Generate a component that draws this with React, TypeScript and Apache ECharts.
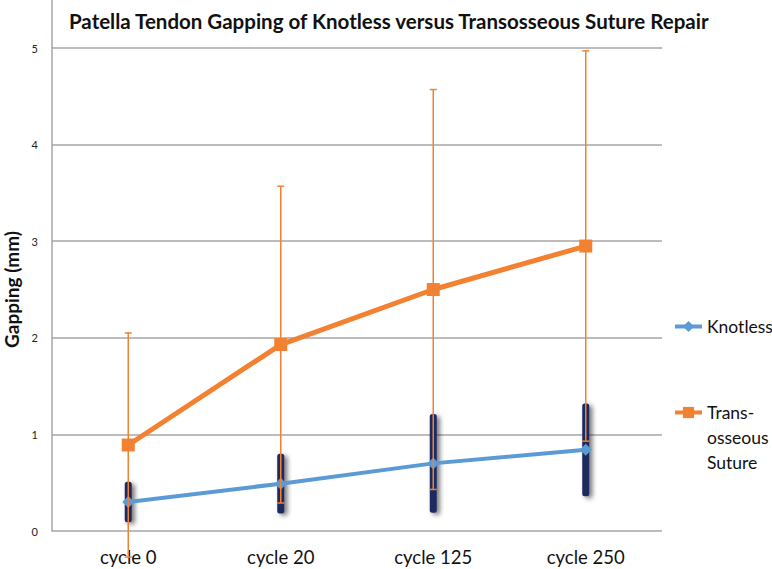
import React, { useEffect, useRef } from "react";
import * as echarts from "echarts";

const categories = ["cycle 0", "cycle 20", "cycle 125", "cycle 250"];
const knotlessMean = [0.3, 0.49, 0.7, 0.84];
const knotlessSD = [0.21, 0.31, 0.51, 0.48];
const transMean = [0.89, 1.93, 2.5, 2.95];
const transSD = [1.16, 1.64, 2.07, 2.02];
const yTicks = { min: 0, max: 5, interval: 1 };

const FONT = "Lato, 'Open Sans', sans-serif";

export default function App() {
  const ref = useRef<HTMLDivElement>(null);
  useEffect(() => {
    const chart = echarts.init(ref.current!, undefined, { renderer: "svg" });
    const knotErr = knotlessMean.map((m, i) => [i, m - knotlessSD[i], m + knotlessSD[i]]);
    const transErr = transMean.map((m, i) => [i, m - transSD[i], m + transSD[i]]);

    chart.setOption({
      animation: false,
      title: {
        text: "Patella Tendon Gapping of Knotless versus Transosseous Suture Repair",
        left: 64,
        top: 5,
        textStyle: { fontFamily: FONT, fontWeight: "bold", fontSize: 20.5, color: "#111" },
      },
      grid: { left: 52, right: 110, top: 48, bottom: 38, outerBoundsMode: "none", containLabel: false },
      legend: [
        {
          data: ["Knotless"],
          orient: "vertical",
          left: 668,
          top: 309,
          itemWidth: 27,
          itemHeight: 14,
          lineStyle: { width: 4 },
          textStyle: { fontFamily: FONT, fontSize: 17.5, color: "#111", lineHeight: 25 },
        },
        {
          data: ["Transosseous Suture"],
          orient: "vertical",
          left: 668,
          top: 345,
          itemWidth: 27,
          itemHeight: 14,
          lineStyle: { width: 4 },
          formatter: () => " \n \nTrans-\nosseous\nSuture",
          textStyle: { fontFamily: FONT, fontSize: 17.5, color: "#111", lineHeight: 25 },
        },
      ],
      xAxis: {
        type: "category",
        data: categories,
        boundaryGap: true,
        axisLine: { show: false },
        axisTick: { show: false },
        axisLabel: { fontFamily: FONT, fontSize: 18.5, color: "#111", margin: 16 },
      },
      yAxis: {
        type: "value",
        min: yTicks.min,
        max: yTicks.max,
        interval: yTicks.interval,
        name: "Gapping (mm)",
        nameLocation: "middle",
        nameGap: 30,
        nameTextStyle: { fontFamily: FONT, fontWeight: "bold", fontSize: 19, color: "#111" },
        axisLine: { show: true, lineStyle: { color: "#a6a6a6", width: 1.5 } },
        axisTick: { show: false },
        axisLabel: { fontFamily: FONT, fontSize: 11, color: "#222", margin: 14 },
        splitLine: { show: true, lineStyle: { color: "#a6a6a6", width: 1.5 } },
      },
      graphic: [
        {
          type: "line",
          shape: { x1: 52, y1: 0, x2: 52, y2: 48 },
          style: { stroke: "#a6a6a6", lineWidth: 1.5 },
        },
      ],
      series: [
        {
          name: "KnotlessErr",
          type: "custom",
          z: 1,
          clip: false,
          data: knotErr,
          renderItem: (params: any, api: any) => {
            const i = api.value(0);
            const lo = api.coord([i, api.value(1)]);
            const hi = api.coord([i, api.value(2)]);
            return {
              type: "rect",
              shape: { x: lo[0] - 3.5, y: hi[1], width: 7, height: lo[1] - hi[1], r: 2.5 },
              style: {
                fill: "#1b2a5e",
                shadowBlur: 5,
                shadowColor: "rgba(0,0,0,0.55)",
                shadowOffsetX: 3,
                shadowOffsetY: 2,
              },
            };
          },
        },
        {
          name: "Knotless",
          type: "line",
          z: 3,
          data: knotlessMean,
          symbol: "diamond",
          symbolSize: 12,
          lineStyle: { color: "#5b9bd5", width: 4 },
          itemStyle: { color: "#5b9bd5" },
        },
        {
          name: "Transosseous Suture",
          type: "line",
          z: 3,
          data: transMean,
          symbol: "rect",
          symbolSize: 13,
          lineStyle: { color: "#f28131", width: 5 },
          itemStyle: { color: "#f28131" },
        },
        {
          name: "TransErr",
          type: "custom",
          z: 4,
          clip: false,
          data: transErr,
          renderItem: (params: any, api: any) => {
            const i = api.value(0);
            const lo = api.coord([i, api.value(1)]);
            const hi = api.coord([i, api.value(2)]);
            const st = { stroke: "#f28131", lineWidth: 1.5 };
            return {
              type: "group",
              children: [
                { type: "line", shape: { x1: lo[0], y1: lo[1], x2: hi[0], y2: hi[1] }, style: st },
                { type: "line", shape: { x1: lo[0] - 3.5, y1: lo[1], x2: lo[0] + 3.5, y2: lo[1] }, style: st },
                { type: "line", shape: { x1: hi[0] - 3.5, y1: hi[1], x2: hi[0] + 3.5, y2: hi[1] }, style: st },
              ],
            };
          },
        },
      ],
    });
    return () => chart.dispose();
  }, []);
  return <div ref={ref} style={{ width: 772, height: 569, position: "absolute", left: 0, top: 0 }} />;
}
